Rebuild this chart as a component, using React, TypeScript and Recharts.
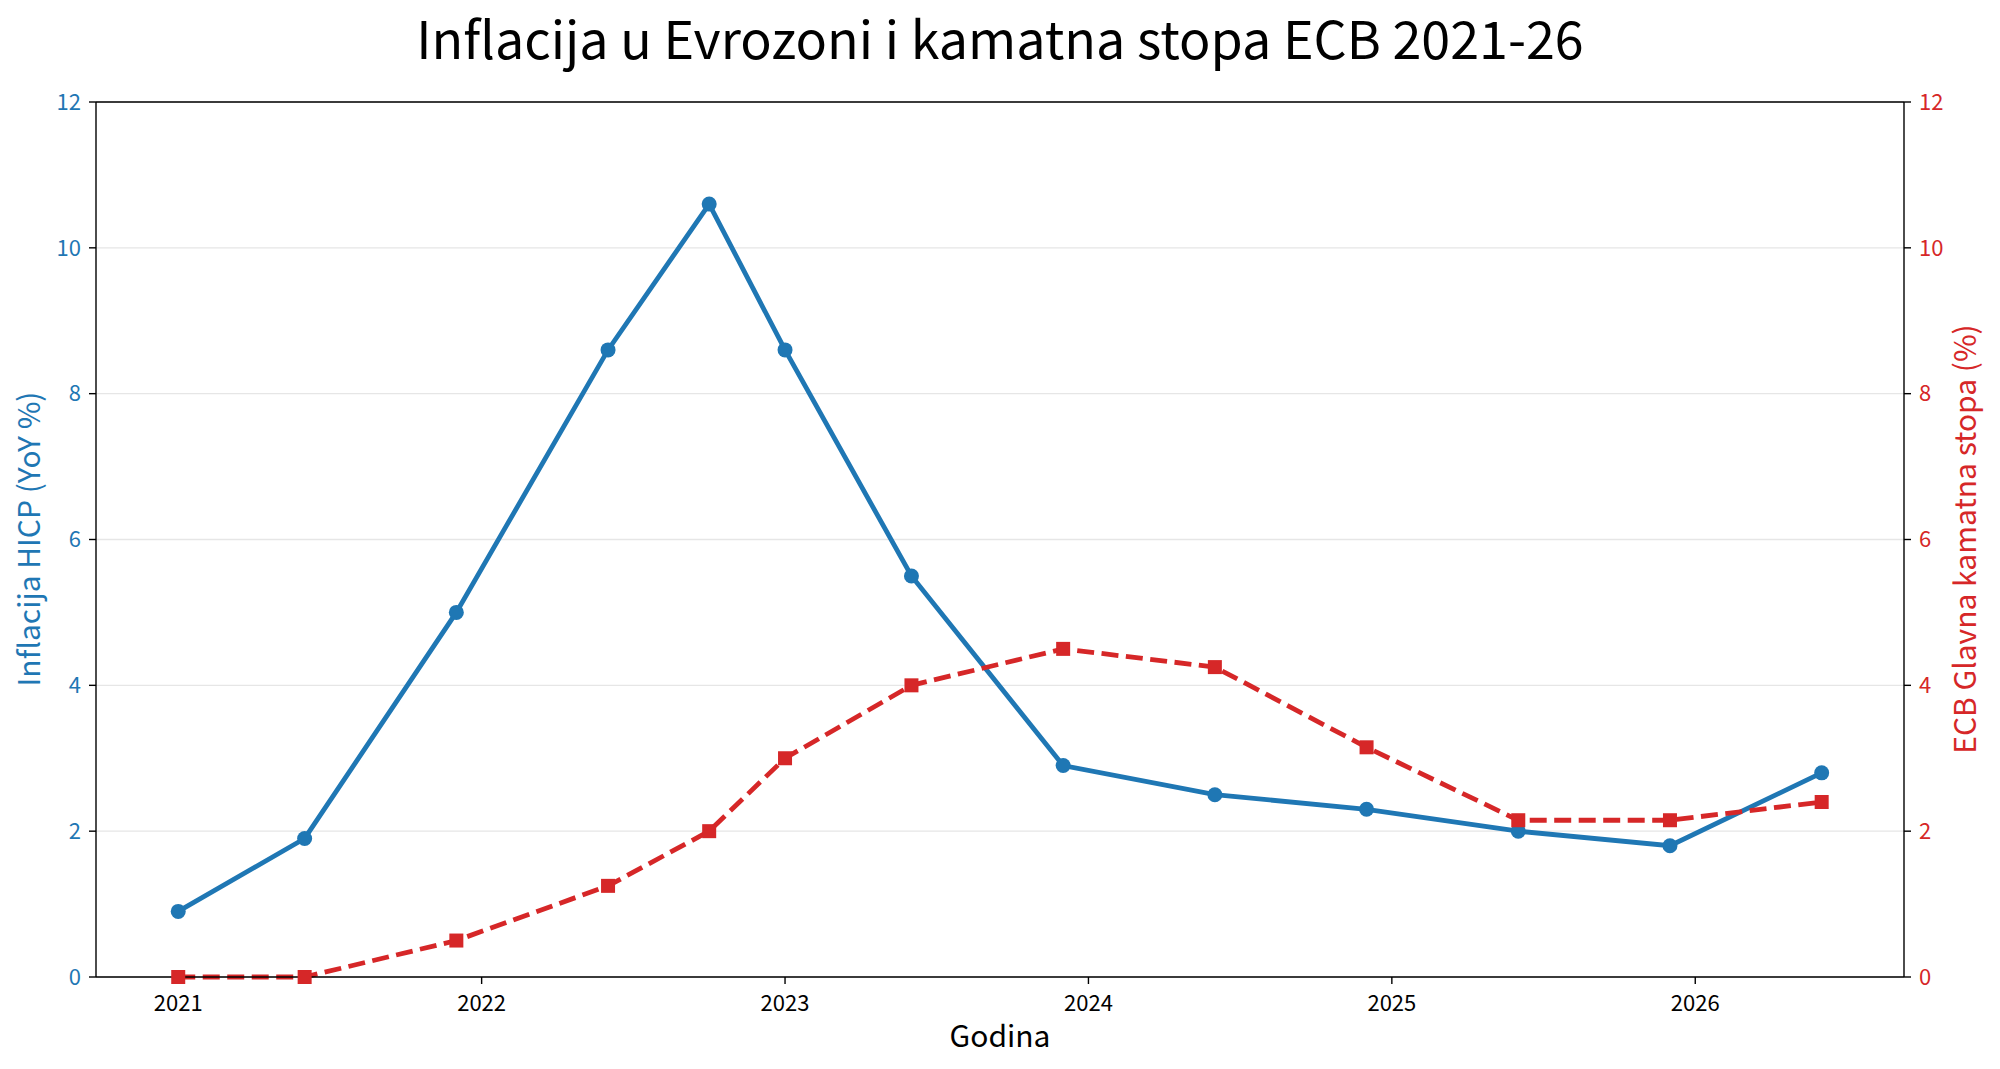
import React from 'react';
import {
  ComposedChart,
  Line,
  XAxis,
  YAxis,
  CartesianGrid,
  ReferenceLine,
} from 'recharts';

// Observation months (YYYY-MM)
const periods = [
  '2021-01', '2021-06', '2021-12', '2022-06', '2022-10', '2023-01', '2023-06',
  '2023-12', '2024-06', '2024-12', '2025-06', '2025-12', '2026-06',
];
const inflation = [0.9, 1.9, 5.0, 8.6, 10.6, 8.6, 5.5, 2.9, 2.5, 2.3, 2.0, 1.8, 2.8];
const ecbRate = [0.0, 0.0, 0.5, 1.25, 2.0, 3.0, 4.0, 4.5, 4.25, 3.15, 2.15, 2.15, 2.4];
const yearTicks = [2021, 2022, 2023, 2024, 2025, 2026];
const valueTicks = [0, 2, 4, 6, 8, 10, 12];

const BLUE = '#1f77b4';
const RED = '#d62728';
const FONT = '"Noto Sans CJK SC", "Noto Sans", sans-serif';

const toYear = (p: string) => {
  const [y, m] = p.split('-').map(Number);
  return y + (m - 1) / 12;
};

const data = periods.map((p, i) => ({
  t: toYear(p),
  inflation: inflation[i],
  rate: ecbRate[i],
}));

const SquareDot = (props: any) => {
  const { cx, cy, index } = props;
  if (cx == null || cy == null) return <g key={`sq-${index}`} />;
  return <rect key={`sq-${index}`} x={cx - 7} y={cy - 7} width={14} height={14} fill={RED} />;
};

export default function App() {
  return (
    <div style={{ position: 'fixed', left: 0, top: 0, width: 2000, height: 1069, background: '#fff', fontFamily: FONT }}>
      <ComposedChart
        width={2000}
        height={1069}
        data={data}
        margin={{ top: 102, right: 36, bottom: 42, left: 36 }}
      >
        <text x={1000} y={59} textAnchor="middle" fontSize={52} fontFamily={FONT} fill="#000">
          Inflacija u Evrozoni i kamatna stopa ECB 2021-26
        </text>
        <text x={1000} y={1047} textAnchor="middle" fontSize={30} fontFamily={FONT} fill="#000">
          Godina
        </text>
        <text
          x={40}
          y={539}
          textAnchor="middle"
          fontSize={30}
          fontFamily={FONT}
          fill={BLUE}
          transform="rotate(-90 40 539)"
        >
          Inflacija HICP (YoY %)
        </text>
        <text
          x={1968}
          y={539}
          textAnchor="middle"
          dominantBaseline="middle"
          fontSize={30}
          fontFamily={FONT}
          fill={RED}
          transform="rotate(-90 1968 539)"
        >
          ECB Glavna kamatna stopa (%)
        </text>
        <CartesianGrid yAxisId="left" horizontal vertical={false} stroke="#e6e6e6" strokeWidth={1.3} />
        <XAxis
          dataKey="t"
          type="number"
          domain={[2020.729, 2026.688]}
          ticks={yearTicks}
          allowDataOverflow
          height={50}
          stroke="#000"
          strokeWidth={1.4}
          tickSize={7}
          tick={{ fill: '#000', fontSize: 22, fontFamily: FONT }}
          tickMargin={11}
        />
        <YAxis
          yAxisId="left"
          domain={[0, 12]}
          ticks={valueTicks}
          width={60}
          stroke="#000"
          strokeWidth={1.4}
          tickSize={7}
          tickMargin={8}
          tick={{ fill: BLUE, fontSize: 22, fontFamily: FONT }}
        />
        <YAxis
          yAxisId="right"
          orientation="right"
          domain={[0, 12]}
          ticks={valueTicks}
          width={60}
          stroke="#000"
          strokeWidth={1.4}
          tickSize={7}
          tickMargin={8}
          tick={{ fill: RED, fontSize: 22, fontFamily: FONT }}
        />
        <ReferenceLine yAxisId="left" y={12} stroke="#000" strokeWidth={1.4} />
        <Line
          yAxisId="left"
          dataKey="inflation"
          stroke={BLUE}
          strokeWidth={4.8}
          dot={{ r: 7.5, fill: BLUE, stroke: BLUE, strokeWidth: 0 }}
          activeDot={false}
          isAnimationActive={false}
        />
        <Line
          yAxisId="right"
          dataKey="rate"
          stroke={RED}
          strokeWidth={4.8}
          strokeDasharray="17 7.5"
          dot={SquareDot}
          activeDot={false}
          isAnimationActive={false}
        />
      </ComposedChart>
    </div>
  );
}
